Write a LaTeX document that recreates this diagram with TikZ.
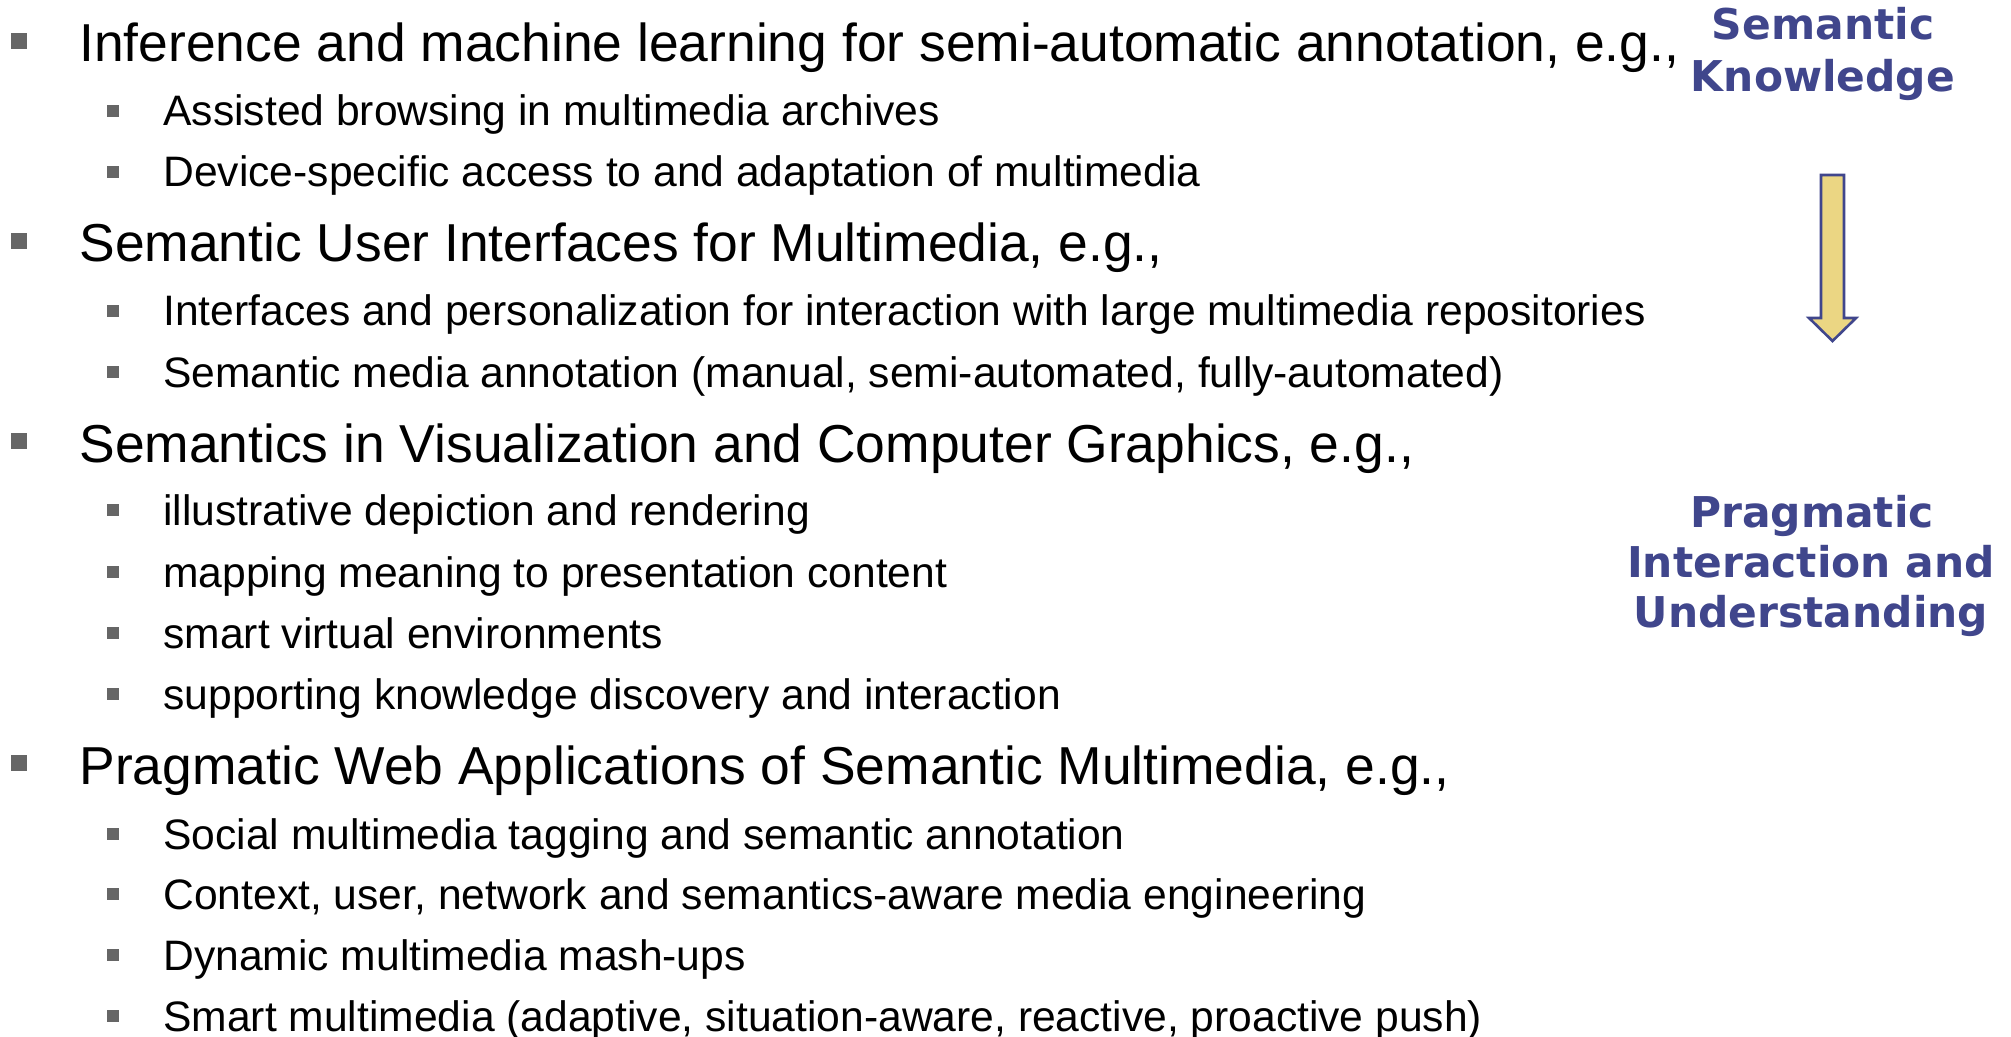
\documentclass[tikz,border=0pt]{standalone}
\usepackage{fontspec}
\setmainfont{Liberation Sans}
\newfontfamily\labelfont{DejaVu Sans}
\definecolor{lblue}{RGB}{64,70,140}
\definecolor{bulgray}{RGB}{102,102,102}
\definecolor{arrowfill}{RGB}{235,214,131}
\begin{document}
\begin{tikzpicture}[x=0.5pt,y=-0.5pt,
  main/.style={anchor=base west,inner sep=0pt,font=\fontsize{26.7}{32}\selectfont},
  sub/.style={anchor=base west,inner sep=0pt,font=\fontsize{21.3}{25}\selectfont},
  lbl/.style={anchor=base,inner sep=0pt,text=lblue,font=\labelfont\bfseries\fontsize{21.2}{25}\selectfont},
  mbul/.style={fill=bulgray,minimum size=8pt,inner sep=0pt},
  sbul/.style={fill=bulgray,minimum size=6pt,inner sep=0pt},
  blockarrow/.style={draw=lblue,fill=arrowfill,line width=1.3pt,line join=miter}]
\useasboundingbox (0,0) rectangle (2011,1037);
\fill[white] (0,0) rectangle (2011,1037);

% main items
\node[mbul] (b1) at (19,41) {};
\node[main] (m1) at (79,62) {Inference and machine learning for semi-automatic annotation, e.g.,};
\node[mbul] (b2) at (19,241) {};
\node[main] (m2) at (79,262) {Semantic User Interfaces for Multimedia, e.g.,};
\node[mbul] (b3) at (19,441) {};
\node[main] (m3) at (79,462) {Semantics in Visualization and Computer Graphics, e.g.,};
\node[mbul] (b4) at (19,763) {};
\node[main] (m4) at (79,784) {Pragmatic Web Applications of Semantic Multimedia, e.g.,};

% sub items
\node[sbul] (sb1) at (113,111) {};
\node[sub] (s1) at (163,126) {Assisted browsing in multimedia archives};
\node[sbul] (sb2) at (113,172) {};
\node[sub] (s2) at (163,187) {Device-specific access to and adaptation of multimedia};
\node[sbul] (sb3) at (113,311) {};
\node[sub] (s3) at (163,326) {Interfaces and personalization for interaction with large multimedia repositories};
\node[sbul] (sb4) at (113,372) {};
\node[sub] (s4) at (163,387) {Semantic media annotation (manual, semi-automated, fully-automated)};
\node[sbul] (sb5) at (113,510) {};
\node[sub] (s5) at (163,525) {illustrative depiction and rendering};
\node[sbul] (sb6) at (113,572) {};
\node[sub] (s6) at (163,587) {mapping meaning to presentation content};
\node[sbul] (sb7) at (113,633) {};
\node[sub] (s7) at (163,648) {smart virtual environments};
\node[sbul] (sb8) at (113,694) {};
\node[sub] (s8) at (163,709) {supporting knowledge discovery and interaction};
\node[sbul] (sb9) at (113,834) {};
\node[sub] (s9) at (163,849) {Social multimedia tagging and semantic annotation};
\node[sbul] (sb10) at (113,894) {};
\node[sub] (s10) at (163,909) {Context, user, network and semantics-aware media engineering};
\node[sbul] (sb11) at (113,955) {};
\node[sub] (s11) at (163,970) {Dynamic multimedia mash-ups};
\node[sbul] (sb12) at (113,1016) {};
\node[sub] (s12) at (163,1031) {Smart multimedia (adaptive, situation-aware, reactive, proactive push)};

% right labels
\node[lbl] (k1) at (1823,40) {Semantic};
\node[lbl] (k2) at (1823,92) {Knowledge};
\node[lbl] (p1) at (1812,527) {Pragmatic};
\node[lbl] (p2) at (1811,577) {Interaction and};
\node[lbl] (p3) at (1811,627) {Understanding};

% block arrow
\draw[blockarrow] (1821,175) -- (1844,175) -- (1844,318) -- (1856,318)
  -- (1832.5,341) -- (1809,318) -- (1821,318) -- cycle;
\end{tikzpicture}
\end{document}
